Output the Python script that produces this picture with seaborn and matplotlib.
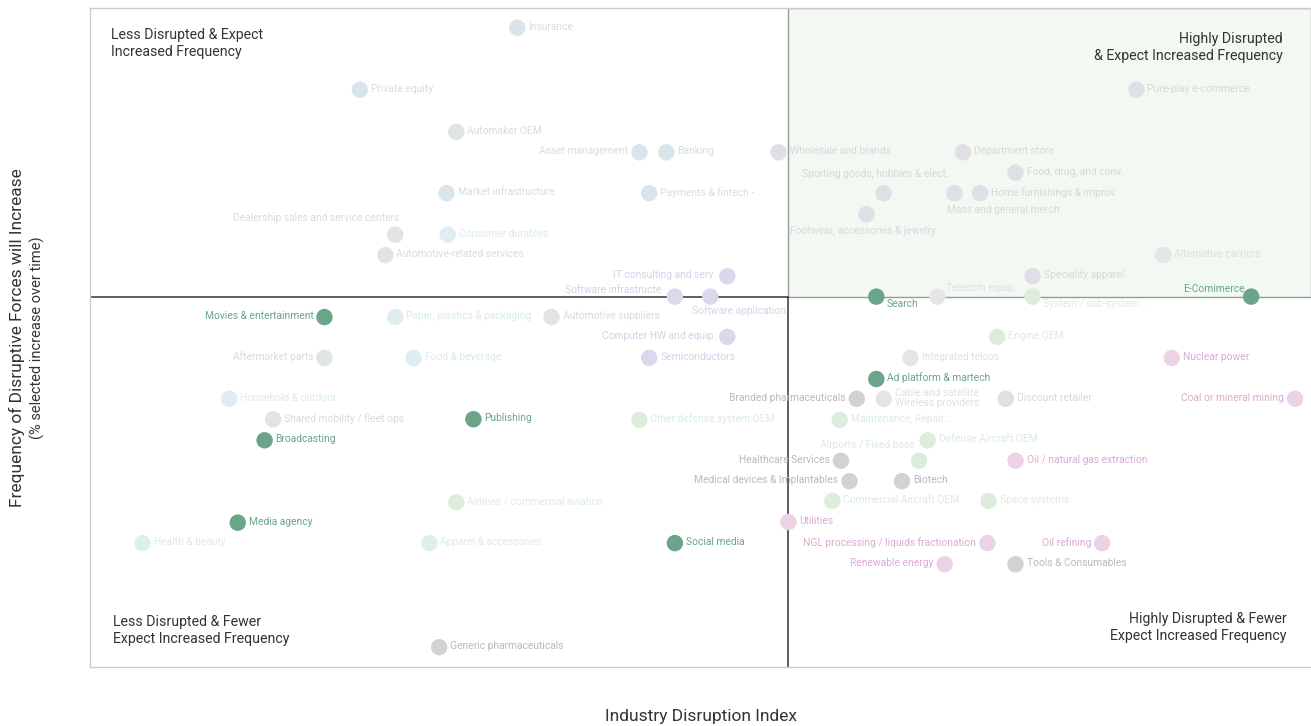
import matplotlib
matplotlib.use("Agg")
import matplotlib.pyplot as plt
import seaborn as sns
import pandas as pd
from matplotlib.patches import Rectangle

# ---- data -------------------------------------------------------------
industries = [
    "Insurance", "Private equity", "Automaker OEM", "Asset management", "Banking",
    "Market infrastructure", "Payments & fintech -", "Dealership sales and service centers",
    "Consumer durables", "Automotive-related services", "IT consulting and serv.",
    "Software infrastructe", "Software application", "Movies & entertainment",
    "Paper, plastics & packaging", "Automotive suppliers", "Computer HW and equip.",
    "Aftermarket parts", "Food & beverage", "Semiconductors", "Household & outdoor",
    "Shared mobility / fleet ops", "Publishing", "Other defense system OEM", "Broadcasting",
    "Airlines / commercial aviation", "Media agency", "Health & beauty",
    "Apparel & accessories", "Social media", "Generic pharmaceuticals",
    "Wholesale and brands", "Department store", "Food, drug, and conv.",
    "Sporting goods, hobbies & elect.", "Mass and general merch.", "Home furnishings & improv.",
    "Footwear, accessories & jewelry", "Pure-play e-commerce", "Alternative carriers",
    "Speciality apparel", "Search", "Telecom equip.", "System / sub-system...", "E-Comimerce",
    "Engine OEM", "Integrated telcos", "Nuclear power", "Ad platform & martech",
    "Branded pharmaceuticals", "Cable and satellite\nWireless providers", "Discount retailer",
    "Coal or mineral mining", "Maintenance, Repair...", "Defense Aircraft OEM",
    "Airports / Fixed base", "Healthcare Services", "Oil / natural gas extraction",
    "Medical devices & Implantables", "Biotech", "Commercial Aircraft OEM", "Space systems",
    "Utilities", "NGL processing / liquids fractionation", "Oil refining",
    "Renewable energy", "Tools & Consumables",
]

sectors = [
    "Financial", "Financial", "Automotive", "Financial", "Financial",
    "Financial", "Financial", "Automotive",
    "Consumer goods", "Automotive", "Technology",
    "Technology", "Technology", "Media",
    "Consumer goods", "Automotive", "Technology",
    "Automotive", "Consumer goods", "Technology", "Consumer goods",
    "Automotive", "Media", "Aerospace & defense", "Media",
    "Aerospace & defense", "Media", "Consumer goods",
    "Consumer goods", "Media", "Healthcare",
    "Retail", "Retail", "Retail",
    "Retail", "Retail", "Retail",
    "Retail", "Retail", "Telecom",
    "Retail", "Media", "Telecom", "Aerospace & defense", "Media",
    "Aerospace & defense", "Telecom", "Energy", "Media",
    "Healthcare", "Telecom", "Retail",
    "Energy", "Aerospace & defense", "Aerospace & defense",
    "Aerospace & defense", "Healthcare", "Energy",
    "Healthcare", "Healthcare", "Aerospace & defense", "Aerospace & defense",
    "Energy", "Energy", "Energy",
    "Energy", "Healthcare",
]

# Industry Disruption Index
disruption = [
    35.0, 22.1, 30.0, 45.0, 47.2,
    29.2, 45.8, 25.0,
    29.3, 24.2, 52.2,
    47.9, 50.8, 19.2,
    25.0, 37.8, 52.2,
    19.2, 26.5, 45.8, 11.4,
    15.0, 31.4, 45.0, 14.3,
    30.0, 12.1, 4.3,
    27.8, 47.9, 28.6,
    56.4, 71.5, 75.8,
    65.0, 70.8, 72.9,
    63.6, 85.7, 87.9,
    77.2, 64.4, 69.4, 77.2, 95.1,
    74.3, 67.2, 88.6, 64.4,
    62.8, 65.0, 75.0,
    98.7, 61.4, 68.6,
    67.9, 61.5, 75.8,
    62.2, 66.5, 60.8, 73.6,
    57.2, 73.5, 82.9,
    70.0, 75.8,
]

# Frequency of disruptive forces expected to increase (% selected)
frequency = [
    97.0, 87.6, 81.2, 78.1, 78.1,
    71.9, 71.9, 65.6,
    65.6, 62.5, 59.3,
    56.2, 56.2, 53.1,
    53.1, 53.1, 50.1,
    46.9, 46.9, 46.9, 40.7,
    37.6, 37.6, 37.5, 34.4,
    25.0, 21.9, 18.8,
    18.8, 18.8, 3.0,
    78.1, 78.1, 75.0,
    71.9, 71.9, 71.9,
    68.7, 87.6, 62.5,
    59.3, 56.2, 56.2, 56.2, 56.2,
    50.1, 46.9, 46.9, 43.7,
    40.7, 40.7, 40.7,
    40.7, 37.5, 34.4,
    31.3, 31.3, 31.3,
    28.2, 28.2, 25.2, 25.2,
    22.0, 18.8, 18.8,
    15.6, 15.6,
]

x_split = 57.2   # disruption index threshold
y_split = 56.2   # frequency threshold

quadrant_titles = [
    "Less Disrupted & Expect\nIncreased Frequency",
    "Highly Disrupted\n& Expect Increased Frequency",
    "Less Disrupted & Fewer\nExpect Increased Frequency",
    "Highly Disrupted & Fewer\nExpect Increased Frequency",
]

# ---- styling ------------------------------------------------------------
dot_colors = {
    "Financial": "#dae4eb",
    "Automotive": "#e0e4e2",
    "Consumer goods": "#deedf0",
    "Retail": "#e0dfe6",
    "Technology": "#d9d9eb",
    "Media": "#6aa58a",
    "Telecom": "#e5e5e7",
    "Aerospace & defense": "#dcedde",
    "Energy": "#ebd2e6",
    "Healthcare": "#d2d2d2",
}
text_colors = {
    "Financial": "#d3dee6",
    "Automotive": "#d8dcda",
    "Consumer goods": "#daeaee",
    "Retail": "#d8d8dc",
    "Technology": "#d3d3e6",
    "Media": "#6aa58a",
    "Telecom": "#e0e0e3",
    "Aerospace & defense": "#dbecde",
    "Energy": "#dcaad0",
    "Healthcare": "#bababa",
}

# label placement: (dx px, dy px, horizontal alignment)
RIGHT = (11, 1, "left")
LEFT = (-11, 1, "right")
placement = {
    "Asset management": LEFT,
    "IT consulting and serv.": LEFT,
    "Movies & entertainment": LEFT,
    "Computer HW and equip.": LEFT,
    "Aftermarket parts": LEFT,
    "Branded pharmaceuticals": LEFT,
    "Coal or mineral mining": LEFT,
    "Healthcare Services": LEFT,
    "Medical devices & Implantables": LEFT,
    "NGL processing / liquids fractionation": LEFT,
    "Oil refining": LEFT,
    "Renewable energy": LEFT,
    "Dealership sales and service centers": (4, 17, "right"),
    "Software infrastructe": (-13, 7, "right"),
    "Software application": (-18, -14, "left"),
    "Sporting goods, hobbies & elect.": (-8, 19, "center"),
    "Mass and general merch.": (-7, -17, "left"),
    "Footwear, accessories & jewelry": (-4, -17, "center"),
    "Search": (10, -7, "left"),
    "Telecom equip.": (9, 9, "left"),
    "System / sub-system...": (10, -7, "left"),
    "E-Comimerce": (-6, 8, "right"),
    "Airports / Fixed base": (-4, 16, "right"),
}

df = pd.DataFrame({
    "industry": industries,
    "sector": sectors,
    "disruption": disruption,
    "frequency": frequency,
})

sns.set_theme(style="white")
plt.rcParams["font.family"] = ["Roboto", "DejaVu Sans"]

W, H = 1311, 726
fig = plt.figure(figsize=(W / 100, H / 100), dpi=100)
ax = fig.add_axes([90 / W, (H - 667) / H, (W - 90) / W, (667 - 8) / H])
ax.set_xlim(0, 100)
ax.set_ylim(0, 100)

# highlighted quadrant
ax.add_patch(Rectangle((x_split, y_split), 100 - x_split, 100 - y_split,
                       facecolor="#f2f8f2", edgecolor="#9a9a9a", linewidth=1.0, zorder=0))
# quadrant dividers
ax.plot([0, x_split], [y_split, y_split], color="#333333", linewidth=1.1, zorder=1)
ax.plot([x_split, x_split], [0, y_split], color="#333333", linewidth=1.1, zorder=1)

sns.scatterplot(data=df, x="disruption", y="frequency", hue="sector",
                palette=dot_colors, s=140, linewidth=0,
                legend=False, ax=ax, zorder=3)

for name, sec, xv, yv in zip(industries, sectors, disruption, frequency):
    dx, dy, ha = placement.get(name, RIGHT)
    ax.annotate(name, (xv, yv), xytext=(dx, dy), textcoords="offset pixels",
                ha=ha, va="center", fontsize=7.4, color=text_colors[sec],
                linespacing=0.95, zorder=4)

qkw = dict(fontsize=10.2, color="#333333", linespacing=1.3, va="center",
           transform=ax.transAxes)
ax.text(0.017, 0.946, quadrant_titles[0], ha="left", **qkw)
ax.text(0.977, 0.940, quadrant_titles[1], ha="right", **qkw)
ax.text(0.019, 0.055, quadrant_titles[2], ha="left", **qkw)
ax.text(0.980, 0.060, quadrant_titles[3], ha="right", **qkw)

ax.set_xticks([])
ax.set_yticks([])
ax.set_xlabel("")
ax.set_ylabel("")
for side in ("left", "top", "bottom"):
    ax.spines[side].set_color("#cccccc")
    ax.spines[side].set_linewidth(1.0)
ax.spines["right"].set_visible(False)

fig.text(701 / W, (H - 716) / H, "Industry Disruption Index", ha="center", va="center",
         fontsize=12.5, color="#333333")
fig.text(17 / W, (H - 338) / H, "Frequency of Disruptive Forces will Increase",
         rotation=90, ha="center", va="center", fontsize=12.5, color="#333333")
fig.text(37 / W, (H - 338) / H, "(% selected increase over time)",
         rotation=90, ha="center", va="center", fontsize=10.5, color="#333333")

fig.savefig("out.png", dpi=100, facecolor="white")
